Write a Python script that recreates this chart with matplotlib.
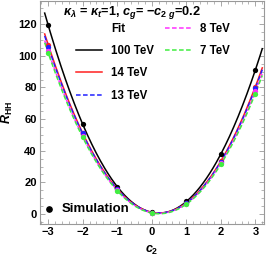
import numpy as np
import matplotlib
matplotlib.use("Agg")
import matplotlib.pyplot as plt
from matplotlib.ticker import MultipleLocator, FuncFormatter
from matplotlib.lines import Line2D

plt.rcParams['font.family'] = ['Liberation Sans', 'DejaVu Sans']
plt.rcParams['font.weight'] = 'bold'
plt.rcParams['mathtext.fontset'] = 'custom'
plt.rcParams['mathtext.rm'] = 'Liberation Sans:bold'
plt.rcParams['mathtext.it'] = 'Liberation Sans:bold:italic'
plt.rcParams['mathtext.bf'] = 'Liberation Sans:bold'

c2 = [-3, -2, -1, 0, 1, 2, 3]
r_100 = [119.5, 57.0, 17.0, 1.0, 8.0, 38.0, 91.0]
r_14 = [107.0, 51.5, 15.8, 0.8, 7.2, 33.5, 80.5]
r_13 = [105.8, 51.0, 15.6, 0.8, 7.1, 33.0, 79.5]
r_8 = [103.0, 49.5, 15.0, 0.7, 6.5, 32.0, 77.5]
r_7 = [102.0, 48.5, 14.6, 0.6, 6.3, 31.5, 76.2]

labels = ["100 TeV", "14 TeV", "13 TeV", "8 TeV", "7 TeV"]
series = [r_100, r_14, r_13, r_8, r_7]
colors = ["black", "#ff2020", "#2020ff", "#ff30ff", "#40ee40"]
styles = ["-", "-", "--", "--", "--"]

fig = plt.figure(figsize=(2.66, 2.59), dpi=100)
ax = fig.add_axes([0.1485, 0.134, 0.8440, 0.864])

xf = np.linspace(-3.1, 3.2, 200)
handles = []
for y, col, ls, lab in zip(series, colors, styles, labels):
    coef = np.polyfit(c2, y, 2)
    kw = dict(dashes=(3, 1.6)) if ls == "--" else {}
    h, = ax.plot(xf, np.polyval(coef, xf), color=col, ls=ls, lw=1.1, zorder=2, **kw)
    handles.append(h)
for y, col in zip(series, colors):
    ax.plot(c2, y, 'o', color=col, ms=3.8, mec='none', zorder=3)

ax.set_xlim(-3.25, 3.25)
ax.set_ylim(-6.5, 135)
ax.xaxis.set_major_locator(MultipleLocator(1))
ax.xaxis.set_minor_locator(MultipleLocator(0.2))
ax.yaxis.set_major_locator(MultipleLocator(20))
ax.yaxis.set_minor_locator(MultipleLocator(5))
ax.tick_params(which='both', direction='in', top=True, right=True,
               color='#999999', labelsize=8, pad=2)
ax.tick_params(which='major', length=3.5, width=0.6)
ax.tick_params(which='minor', length=2, width=0.5)
for s in ax.spines.values():
    s.set_color('#999999')
    s.set_linewidth(0.8)
ax.xaxis.set_major_formatter(FuncFormatter(
    lambda v, p: (f"\u2212{abs(int(round(v)))}" if v < -0.01 else f"{int(round(v))}")))
for t in ax.get_xticklabels() + ax.get_yticklabels():
    t.set_fontweight('bold')

ax.set_xlabel(r"$c_2$", fontsize=9, labelpad=5)
ax.set_ylabel(r"$R_{\mathrm{HH}}$", fontsize=9, labelpad=2)

ax.text(0.105, 0.985, r"$\kappa_\lambda$ = $\kappa_t$=1, $c_g$= $-c_{2\ g}$=0.2",
        transform=ax.transAxes, ha='left', va='top', fontsize=9.2, fontweight='bold')

blank = Line2D([], [], ls='none')
leg_handles = [blank, handles[0], handles[1], handles[2], handles[3], handles[4], blank, blank]
leg_labels = ["Fit", labels[0], labels[1], labels[2], labels[3], labels[4], "", ""]
leg = ax.legend(leg_handles, leg_labels, loc='upper left',
                bbox_to_anchor=(0.125, 0.935), ncol=2, frameon=False, fontsize=8.3,
                handlelength=2.3, handletextpad=0.75, labelspacing=0.88,
                columnspacing=1.0, borderpad=0.2)

ax.text(0.1, 0.07, "Simulation", transform=ax.transAxes, fontsize=9.5,
        fontweight='bold', va='center')
ax.plot([0.042], [0.07], 'o', color='black', ms=3.8, transform=ax.transAxes)

fig.savefig("out.png", dpi=100)
